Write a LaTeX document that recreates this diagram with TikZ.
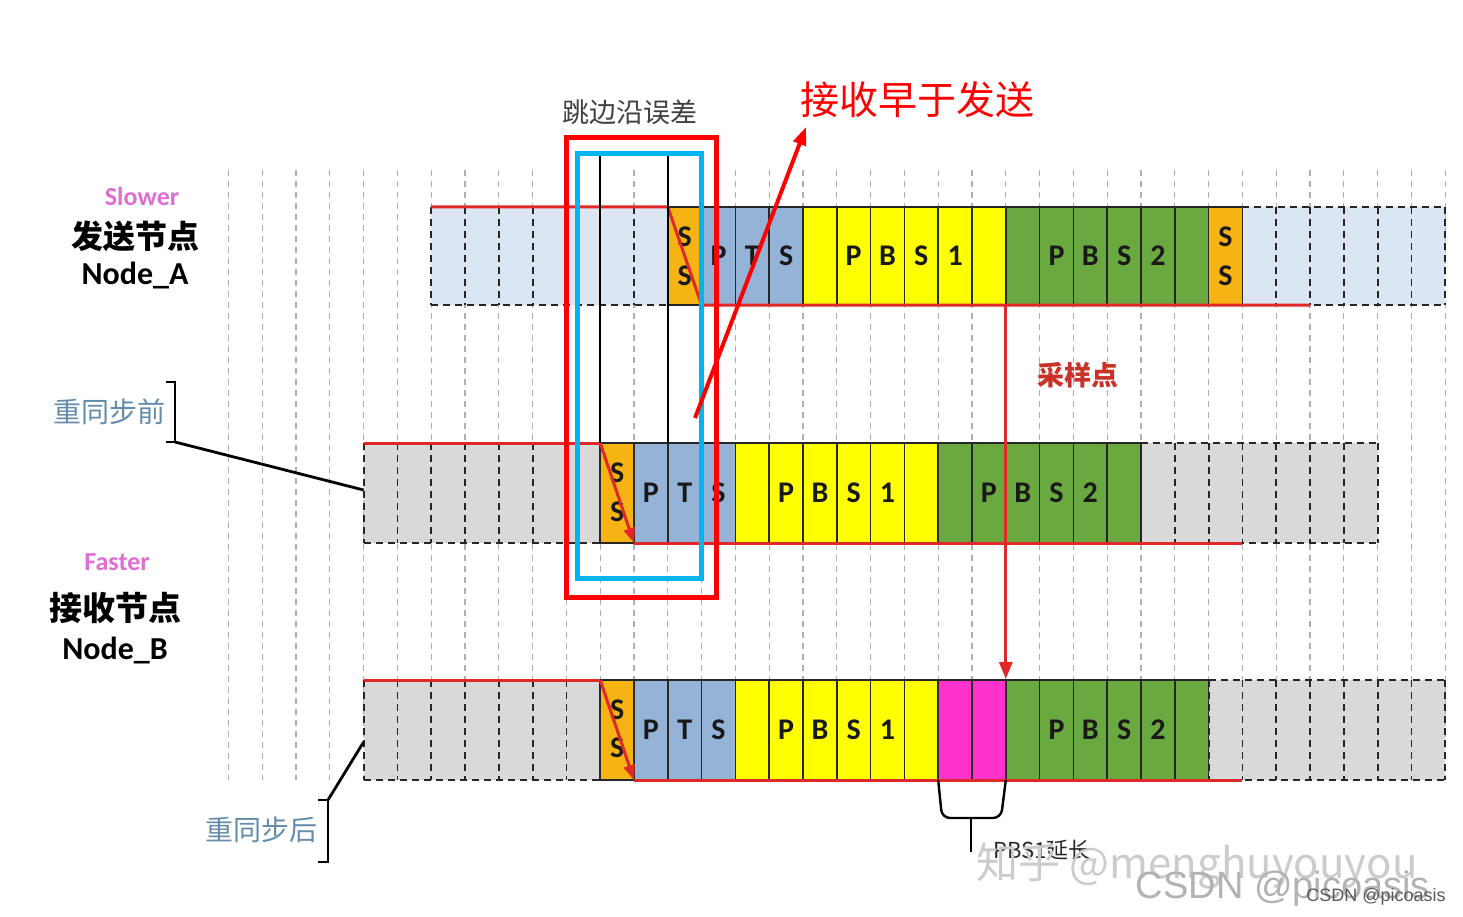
\documentclass[tikz,border=0pt]{standalone}
\usepackage{fontspec}
\setmainfont{Carlito}
\newfontfamily\cjk{Noto Sans CJK SC}
\newfontfamily\arialike{Liberation Sans}
\usepackage{tikz}
\usetikzlibrary{arrows.meta}

\definecolor{idleblue}{RGB}{220,230,242}
\definecolor{idlegray}{RGB}{217,217,217}
\definecolor{ssorange}{RGB}{245,180,20}
\definecolor{ptsblue}{RGB}{149,179,215}
\definecolor{pbsyellow}{RGB}{255,255,0}
\definecolor{pbsgreen}{RGB}{106,168,64}
\definecolor{extpink}{RGB}{255,51,204}
\definecolor{edgered}{RGB}{225,40,40}
\definecolor{boxcyan}{RGB}{0,180,240}
\definecolor{speedpink}{RGB}{224,110,210}
\definecolor{syncblue}{RGB}{100,140,170}
\definecolor{gridgray}{RGB}{175,175,175}

\tikzset{
  idle/.style={draw=black!85, line width=1.8pt, dash pattern=on 7pt off 5pt},
  seg/.style={draw=black!85, line width=1.6pt},
  bit/.style={font=\bfseries\fontsize{30}{30}\selectfont, text=black!90},
  edge/.style={edgered, line width=3pt},
  bracket/.style={black, line width=2.8pt},
}

% a run of coloured bit cells: first, last, colour, top, bottom
\newcommand{\slots}[5]{%
  \foreach \i in {#1,...,#2}
    \filldraw[seg, fill=#3] ({\xo+\i*\cw},#4) rectangle ({\xo+(\i+1)*\cw},#5);}
% idle bus: from column, to column, colour, top, bottom
\newcommand{\idlecells}[5]{%
  \fill[#3] ({\xo+#1*\cw},#4) rectangle ({\xo+#2*\cw},#5);
  \draw[idle] ({\xo+#1*\cw},#4) -- ({\xo+#2*\cw},#4);
  \draw[idle] ({\xo+#1*\cw},#5) -- ({\xo+#2*\cw},#5);
  \foreach \i in {#1,...,#2}
    \draw[idle] ({\xo+\i*\cw},#4) -- ({\xo+\i*\cw},#5);}

\begin{document}
\begin{tikzpicture}[x=1pt, y=-1pt]
\useasboundingbox (0,0) rectangle (1463,917);

% parameters
\def\xo{228.4}
\def\cw{33.8}

% time quanta grid
\foreach \i in {0,...,36}
  \draw[gridgray, line width=1.3pt, dash pattern=on 6pt off 5pt] ({\xo+\i*\cw},170) -- ({\xo+\i*\cw},780);

% sender Node_A
\idlecells{6}{13}{idleblue}{207}{305}
\idlecells{30}{36}{idleblue}{207}{305}
\slots{13}{13}{ssorange}{207}{305}
\slots{14}{16}{ptsblue}{207}{305}
\slots{17}{22}{pbsyellow}{207}{305}
\slots{23}{28}{pbsgreen}{207}{305}
\slots{29}{29}{ssorange}{207}{305}
\foreach \i/\t in {14/P,15/T,16/S,18/P,19/B,20/S,21/1,24/P,25/B,26/S,27/2}
  \node[bit] (A\i) at ({\xo+(\i+0.5)*\cw},256) {\t};
\foreach \i in {13,29} {
  \node[bit] (A\i s1) at ({\xo+(\i+0.5)*\cw},237) {S};
  \node[bit] (A\i s2) at ({\xo+(\i+0.5)*\cw},276) {S};
}
\draw[edge] ({\xo+6*\cw},207) -- ({\xo+13*\cw},207) -- ({\xo+14*\cw},305) -- ({\xo+32*\cw},305);

% receiver before resync
\idlecells{4}{11}{idlegray}{443}{543}
\idlecells{27}{34}{idlegray}{443}{543}
\slots{11}{11}{ssorange}{443}{543}
\slots{12}{14}{ptsblue}{443}{543}
\slots{15}{20}{pbsyellow}{443}{543}
\slots{21}{26}{pbsgreen}{443}{543}
\foreach \i/\t in {12/P,13/T,14/S,16/P,17/B,18/S,19/1,22/P,23/B,24/S,25/2}
  \node[bit] (B\i) at ({\xo+(\i+0.5)*\cw},493) {\t};
\node[bit] (B11s1) at ({\xo+11.5*\cw},473) {S};
\node[bit] (B11s2) at ({\xo+11.5*\cw},512) {S};
\draw[edge] ({\xo+4*\cw},443) -- ({\xo+11*\cw},443);
\draw[edge, -{Triangle[length=15pt,width=11pt]}] ({\xo+11*\cw},443) -- ({\xo+12*\cw},543);
\draw[edge] ({\xo+12*\cw},543) -- ({\xo+30*\cw},543);

% receiver after resync
\idlecells{4}{11}{idlegray}{680}{780}
\idlecells{29}{36}{idlegray}{680}{780}
\slots{11}{11}{ssorange}{680}{780}
\slots{12}{14}{ptsblue}{680}{780}
\slots{15}{20}{pbsyellow}{680}{780}
\slots{21}{22}{extpink}{680}{780}
\slots{23}{28}{pbsgreen}{680}{780}
\foreach \i/\t in {12/P,13/T,14/S,16/P,17/B,18/S,19/1,24/P,25/B,26/S,27/2}
  \node[bit] (C\i) at ({\xo+(\i+0.5)*\cw},730) {\t};
\node[bit] (C11s1) at ({\xo+11.5*\cw},710) {S};
\node[bit] (C11s2) at ({\xo+11.5*\cw},748) {S};
\draw[edge] ({\xo+4*\cw},680) -- ({\xo+11*\cw},680);
\draw[edge, -{Triangle[length=15pt,width=11pt]}] ({\xo+11*\cw},680) -- ({\xo+12*\cw},780);
\draw[edge] ({\xo+12*\cw},780) -- ({\xo+30*\cw},780);

% hard sync edges
\draw[black, line width=2pt] ({\xo+11*\cw},155) -- ({\xo+11*\cw},443);
\draw[black, line width=2pt] ({\xo+13*\cw},155) -- ({\xo+13*\cw},443);

% edge error window
\draw[red, line width=5pt] (566,138) rectangle (716,597);
\draw[boxcyan, line width=5pt] (577,154) rectangle (701,578);
\node[font=\cjk\fontsize{27}{27}\selectfont, text=black!75] (jump) at (630,112) {跳边沿误差};

\node[font=\cjk\fontsize{39}{39}\selectfont, text=red] (early) at (917,100) {接收早于发送};
\coordinate (errtail) at (695,418);
\coordinate (errtip) at (806,127);
\draw[red, line width=4pt, -{Triangle[length=18pt,width=13pt]}] (errtail) -- (errtip);

% sample point
\coordinate (sampA) at ({\xo+23*\cw},305);
\coordinate (sampC) at ({\xo+23*\cw},679);
\draw[edgered, line width=3pt, -{Triangle[length=17pt,width=13pt]}] (sampA) -- (sampC);
\node[font=\cjk\bfseries\fontsize{27}{27}\selectfont, text={rgb,255:red,200;green,50;blue,40}] (samplbl) at (1078,375) {采样点};

% node labels
\node[font=\bfseries\fontsize{26}{26}\selectfont, text=speedpink] (slow) at (142,196) {Slower};
\node[font=\cjk\bfseries\fontsize{32}{32}\selectfont] (sendcn) at (135,236) {发送节点};
\node[font=\bfseries\fontsize{32}{32}\selectfont] (nodeA) at (135,276) {Node\_A};

\node[font=\bfseries\fontsize{26}{26}\selectfont, text=speedpink] (fast) at (117,562) {Faster};
\node[font=\cjk\bfseries\fontsize{33}{33}\selectfont] (recvcn) at (115,608) {接收节点};
\node[font=\bfseries\fontsize{32}{32}\selectfont] (nodeB) at (115,651) {Node\_B};

% resync brackets
\node[font=\cjk\fontsize{28}{28}\selectfont, text=syncblue] (before) at (109,412) {重同步前};
\draw[bracket] (166,382) -- (175,382) -- (175,442) -- (166,442);
\coordinate (brB) at (175,442);
\coordinate (rowB) at ({\xo+4*\cw},490);
\draw[bracket] (brB) -- (rowB);

\node[font=\cjk\fontsize{28}{28}\selectfont, text=syncblue] (after) at (261,830) {重同步后};
\draw[bracket] (318,800) -- (328,800) -- (328,862) -- (318,862);
\coordinate (brC) at (328,800);
\coordinate (rowC) at ({\xo+4*\cw},742);
\draw[bracket] (brC) -- (rowC);

% PBS1 lengthening
\draw[bracket, line width=2.4pt, rounded corners=8pt] ({\xo+21*\cw},780) -- (942,818) -- (1001,818) -- ({\xo+23*\cw},780);
\coordinate (extmid) at (971,818);
\coordinate (extend) at (971,852);
\draw[bracket, line width=2.4pt] (extmid) -- (extend);
\node[font=\cjk\fontsize{22}{22}\selectfont, anchor=west, text=black!85] (extlbl) at (990,850) {PBS1延长};

% watermarks
\node[font=\cjk\fontsize{42}{42}\selectfont, text=black!20] (zhihu) at (1197,866) {知乎 @menghuyouyou};
\node[font=\arialike\fontsize{38}{38}\selectfont, text=black!30] (csdnbig) at (1283,889) {CSDN @picoasis};
\node[font=\arialike\fontsize{18}{18}\selectfont, text=black!65] (csdn) at (1376,897) {CSDN @picoasis};

\end{tikzpicture}
\end{document}
